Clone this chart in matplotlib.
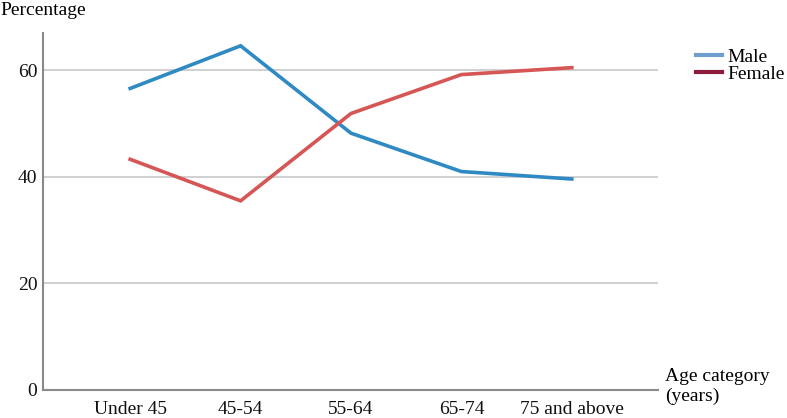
import matplotlib.pyplot as plt
from matplotlib.lines import Line2D

# Data
age_groups = ["Under 45", "45-54", "55-64", "65-74", "75 and above"]
male_pct = [56.6, 64.6, 48.2, 41.0, 39.6]
female_pct = [43.3, 35.5, 51.9, 59.2, 60.5]
y_ticks = [0, 20, 40, 60]

plt.rcParams['font.family'] = ['Liberation Serif', 'DejaVu Serif']

fig = plt.figure(figsize=(7.87, 4.18), dpi=100)
ax = fig.add_axes([0.0546, 0.067, 0.7814, 0.854])

x = range(len(age_groups))
ax.plot(x, male_pct, color='#2f8ac4', linewidth=2.6, solid_joinstyle='miter')
ax.plot(x, female_pct, color='#d65656', linewidth=2.6, solid_joinstyle='miter')

ax.set_xlim(-0.79, len(age_groups) - 1 + 0.78)
ax.set_ylim(0, 67)
ax.set_yticks(y_ticks)
ax.set_xticks(list(x))
ax.set_xticklabels(age_groups)
ax.tick_params(axis='both', length=0, labelsize=14, colors='#111111')
ax.tick_params(axis='y', pad=4)
ax.tick_params(axis='x', pad=8)

ax.yaxis.grid(True, color='#c8c8c8', linewidth=1.2)
ax.set_axisbelow(True)
for side in ['top', 'right']:
    ax.spines[side].set_visible(False)
for side in ['left', 'bottom']:
    ax.spines[side].set_color('#8a8a8a')
    ax.spines[side].set_linewidth(1.5)

fig.text(0.0, 0.995, "Percentage", fontsize=14, va='top', ha='left')
fig.text(0.845, 0.12, "Age category\n(years)", fontsize=14, va='top', ha='left',
         linespacing=1.2)

handles = [Line2D([], [], color='#6f9fcf', linewidth=3),
           Line2D([], [], color='#8e1a3c', linewidth=3)]
fig.legend(handles, ["Male", "Female"], loc='upper left',
           bbox_to_anchor=(0.884, 0.885), frameon=False, fontsize=14,
           handlelength=1.35, handletextpad=0.3, labelspacing=0.0,
           borderaxespad=0, borderpad=0)

fig.savefig("out.png", dpi=100)
